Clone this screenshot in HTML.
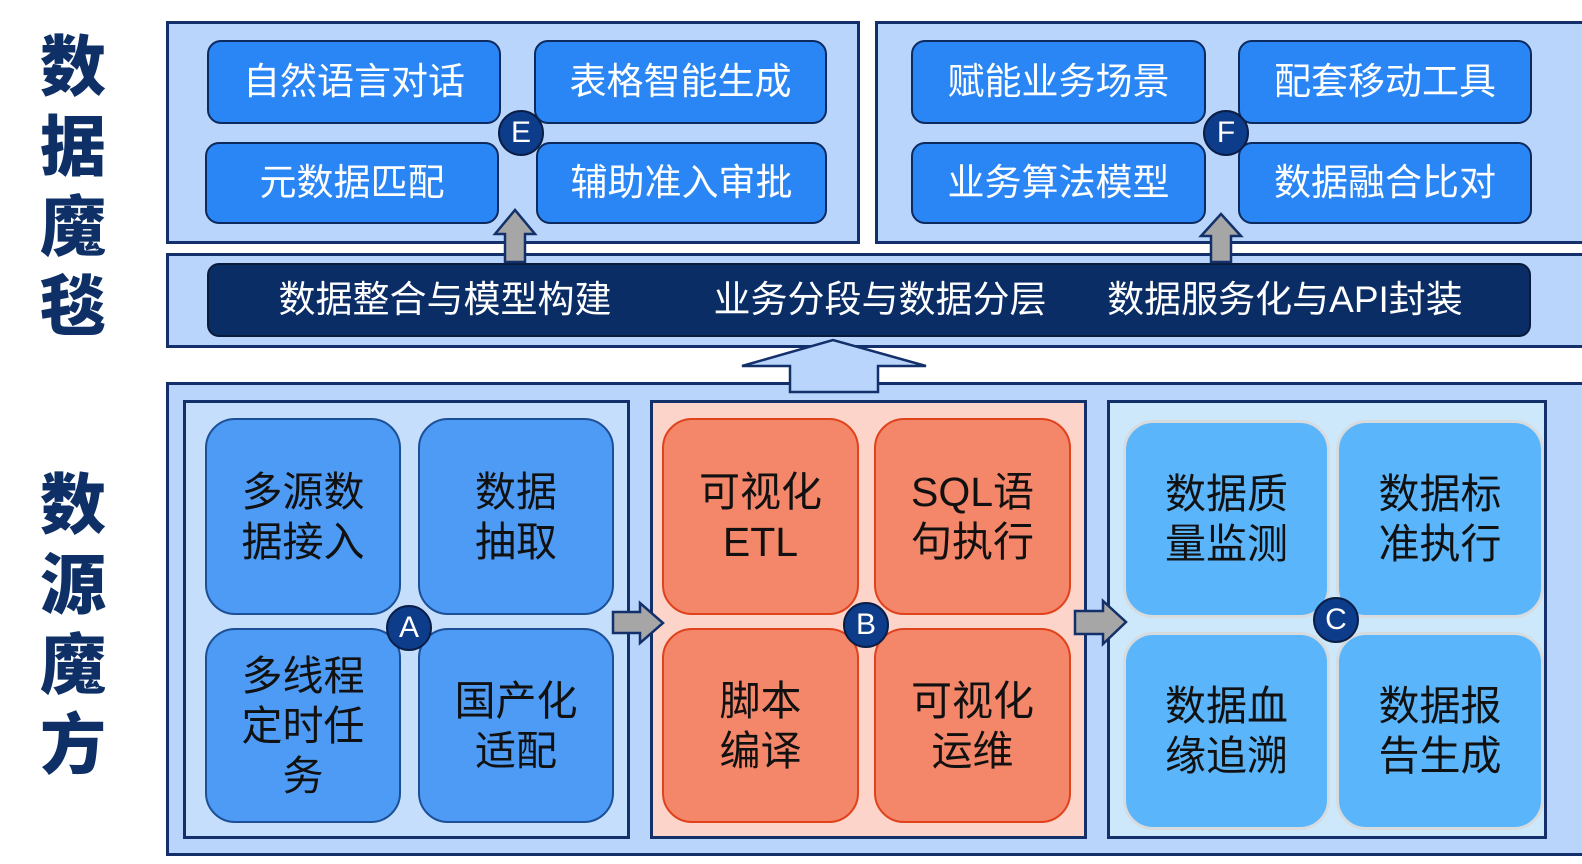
<!DOCTYPE html>
<html><head><meta charset="utf-8">
<style>
*{margin:0;padding:0;box-sizing:border-box}
body{width:1582px;height:864px;background:#fff;position:relative;overflow:hidden;font-family:"Liberation Sans","Noto Sans CJK SC",sans-serif}
.a{position:absolute}
.panel{position:absolute;background:#b9d5fb;border:3px solid #13306a}
.bx{position:absolute;display:flex;align-items:center;justify-content:center;text-align:center;font-size:37px;line-height:48px}
.e{background:#2b86f5;border:2.5px solid #0d2a5e;border-radius:14px;color:#fff}
.ba,.bb,.bc{font-size:41px;line-height:50px}
.ba{background:#4d9bf5;border:2.5px solid #1d4f97;border-radius:30px;color:#111}
.bb{background:#f4866a;border:2.5px solid #e0421c;border-radius:30px;color:#111}
.bc{background:#5ab5fb;border:3px solid #d6dbe0;border-radius:30px;color:#111}
.c{position:absolute;width:46px;height:46px;border-radius:50%;background:#0c3c8a;border:2.5px solid #0a1d44;color:#fff;font-size:30px;display:flex;align-items:center;justify-content:center}
.side{position:absolute;left:36px;width:74px;text-align:center;color:#0e3066;font-weight:900;font-size:66px;line-height:80px;font-family:"Noto Sans CJK SC",sans-serif}
</style></head><body>
<div class="side" style="top:22px">数<br>据<br>魔<br>毯</div>
<div class="side" style="top:460px">数<br>源<br>魔<br>方</div>

<div class="panel" style="left:166px;top:21px;width:694px;height:223px"></div>
<div class="panel" style="left:875px;top:21px;width:710px;height:223px"></div>
<div class="panel" style="left:166px;top:253px;width:1419px;height:95px"></div>
<div class="panel" style="left:166px;top:382px;width:1419px;height:474px"></div>

<div class="bx e" style="left:207px;top:40px;width:294px;height:84px">自然语言对话</div>
<div class="bx e" style="left:534px;top:40px;width:293px;height:84px">表格智能生成</div>
<div class="bx e" style="left:205px;top:142px;width:294px;height:82px">元数据匹配</div>
<div class="bx e" style="left:536px;top:142px;width:291px;height:82px">辅助准入审批</div>
<div class="c" style="left:498px;top:110px">E</div>

<div class="bx e" style="left:911px;top:40px;width:295px;height:84px">赋能业务场景</div>
<div class="bx e" style="left:1238px;top:40px;width:294px;height:84px">配套移动工具</div>
<div class="bx e" style="left:911px;top:142px;width:295px;height:82px">业务算法模型</div>
<div class="bx e" style="left:1238px;top:142px;width:294px;height:82px">数据融合比对</div>
<div class="c" style="left:1203px;top:110px">F</div>

<div class="a" style="left:207px;top:263px;width:1324px;height:74px;background:#0b2d66;border:2px solid #0a1a3a;border-radius:12px"></div>
<div class="bx" style="left:240px;top:263px;width:410px;height:74px;color:#fff">数据整合与模型构建</div>
<div class="bx" style="left:675px;top:263px;width:410px;height:74px;color:#fff">业务分段与数据分层</div>
<div class="bx" style="left:1080px;top:263px;width:410px;height:74px;color:#fff">数据服务化与API封装</div>

<div class="a" style="left:183px;top:400px;width:447px;height:439px;background:#c4defc;border:3px solid #13306a"></div>
<div class="a" style="left:650px;top:400px;width:437px;height:439px;background:#fcd4ca;border:3px solid #13306a"></div>
<div class="a" style="left:1107px;top:400px;width:440px;height:439px;background:#cde8fb;border:3px solid #13306a"></div>

<div class="bx ba" style="left:205px;top:418px;width:196px;height:197px">多源数<br>据接入</div>
<div class="bx ba" style="left:418px;top:418px;width:196px;height:197px">数据<br>抽取</div>
<div class="bx ba" style="left:205px;top:628px;width:196px;height:195px">多线程<br>定时任<br>务</div>
<div class="bx ba" style="left:418px;top:628px;width:196px;height:195px">国产化<br>适配</div>
<div class="c" style="left:386px;top:605px">A</div>

<div class="bx bb" style="left:662px;top:418px;width:197px;height:197px">可视化<br>ETL</div>
<div class="bx bb" style="left:874px;top:418px;width:197px;height:197px">SQL语<br>句执行</div>
<div class="bx bb" style="left:662px;top:628px;width:197px;height:195px">脚本<br>编译</div>
<div class="bx bb" style="left:874px;top:628px;width:197px;height:195px">可视化<br>运维</div>
<div class="c" style="left:843px;top:602px">B</div>

<div class="bx bc" style="left:1123px;top:420px;width:207px;height:198px">数据质<br>量监测</div>
<div class="bx bc" style="left:1336px;top:420px;width:208px;height:198px">数据标<br>准执行</div>
<div class="bx bc" style="left:1123px;top:632px;width:207px;height:198px">数据血<br>缘追溯</div>
<div class="bx bc" style="left:1336px;top:632px;width:208px;height:198px">数据报<br>告生成</div>
<div class="c" style="left:1313px;top:597px">C</div>

<svg class="a" style="left:0;top:0" width="1582" height="864">
<g fill="#a6a6a6" stroke="#13306a" stroke-width="2.5">
<polygon points="505,262 505,234 495,234 515,210 535,234 525,234 525,262"/>
<polygon points="1211,262 1211,236 1201,236 1221,214 1241,236 1231,236 1231,262"/>
<polygon points="613,612 640,612 640,603 663,623 640,643 640,633 613,633"/>
<polygon points="1075,611 1103,611 1103,601 1126,622 1103,644 1103,634 1075,634"/>
</g>
<polygon points="790,392 790,366 742,366 833,340 926,366 878,366 878,392" fill="#b9d5fb" stroke="#13306a" stroke-width="2.5"/>
</svg>
</body></html>
